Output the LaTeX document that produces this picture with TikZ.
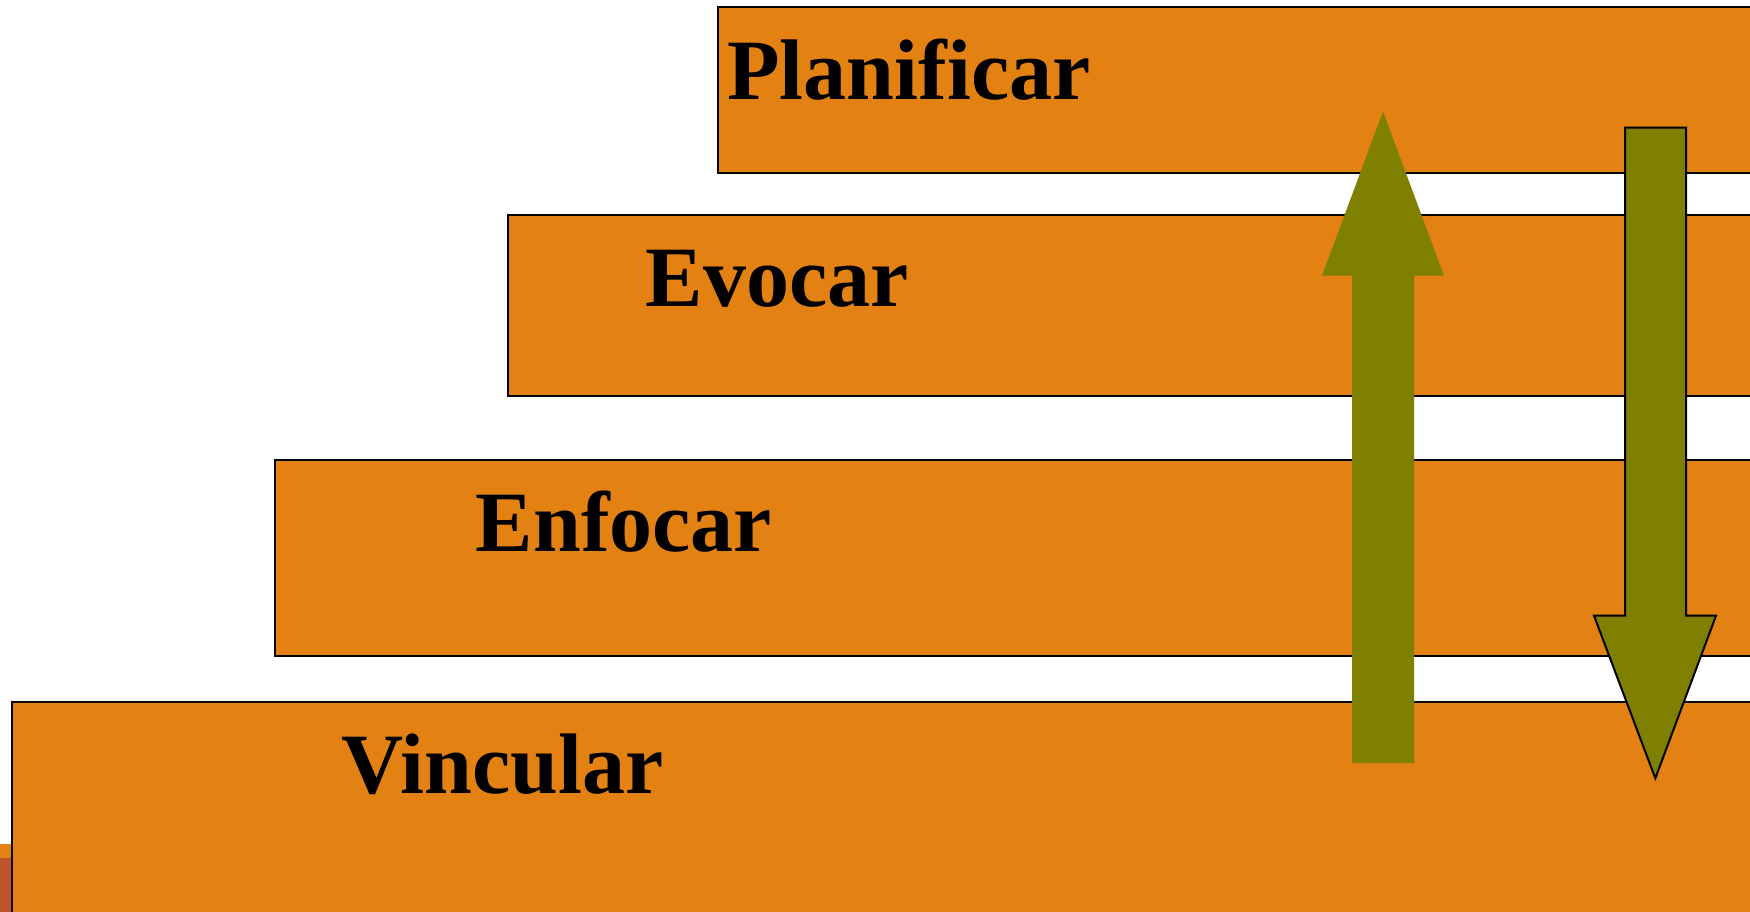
\documentclass[tikz,border=0pt]{standalone}
\usepackage{fontspec}
\setmainfont{Liberation Serif}[Ligatures=NoCommon]
\definecolor{steporange}{RGB}{227,130,19}
\definecolor{arrowolive}{RGB}{128,128,0}
\definecolor{slidebrown}{RGB}{190,85,44}
\tikzset{
  stepbox/.style={fill=steporange, draw=black, line width=1pt},
  steplabel/.style={anchor=base west, inner sep=0pt, text=black,
    font=\fontsize{43}{50}\selectfont\bfseries},
  uparrow/.style={fill=arrowolive, draw=none},
  downarrow/.style={fill=arrowolive, draw=black, line width=1pt, line join=miter},
}
\begin{document}
\begin{tikzpicture}[x=0.5pt,y=-0.5pt]
  \useasboundingbox (0,0) rectangle (1750,911);
  \clip (0,0) rectangle (1750,911);
  \fill[white] (0,0) rectangle (1750,911);

  % slide decoration peeking out at the lower left
  \fill[steporange] (0,844) rectangle (14,858);
  \fill[slidebrown] (0,858) rectangle (14,920);

  % the four stacked steps
  \draw[stepbox] (717.5,6.8) rectangle (1775,173);
  \draw[stepbox] (508,215.4) rectangle (1775,396.2);
  \draw[stepbox] (274.6,459.8) rectangle (1775,656.3);
  \draw[stepbox] (12,702) rectangle (1775,930);

  \node[steplabel] (planificar) at (727,99) {Planificar};
  \node[steplabel] (evocar) at (645.5,306) {Evocar};
  \node[steplabel] (enfocar) at (475.5,551.5) {Enfocar};
  \node[steplabel] (vincular) at (341.5,793.5) {Vincular};

  % upward arrow
  \path[uparrow] (1383,111.5) -- (1444,275.7) -- (1414,275.7) -- (1414,763)
    -- (1352,763) -- (1352,275.7) -- (1322,275.7) -- cycle;

  % downward arrow
  \draw[downarrow] (1625,127.7) -- (1686,127.7) -- (1686,615.7) -- (1716,615.7)
    -- (1655.3,778.3) -- (1594,615.7) -- (1625,615.7) -- cycle;
\end{tikzpicture}
\end{document}
